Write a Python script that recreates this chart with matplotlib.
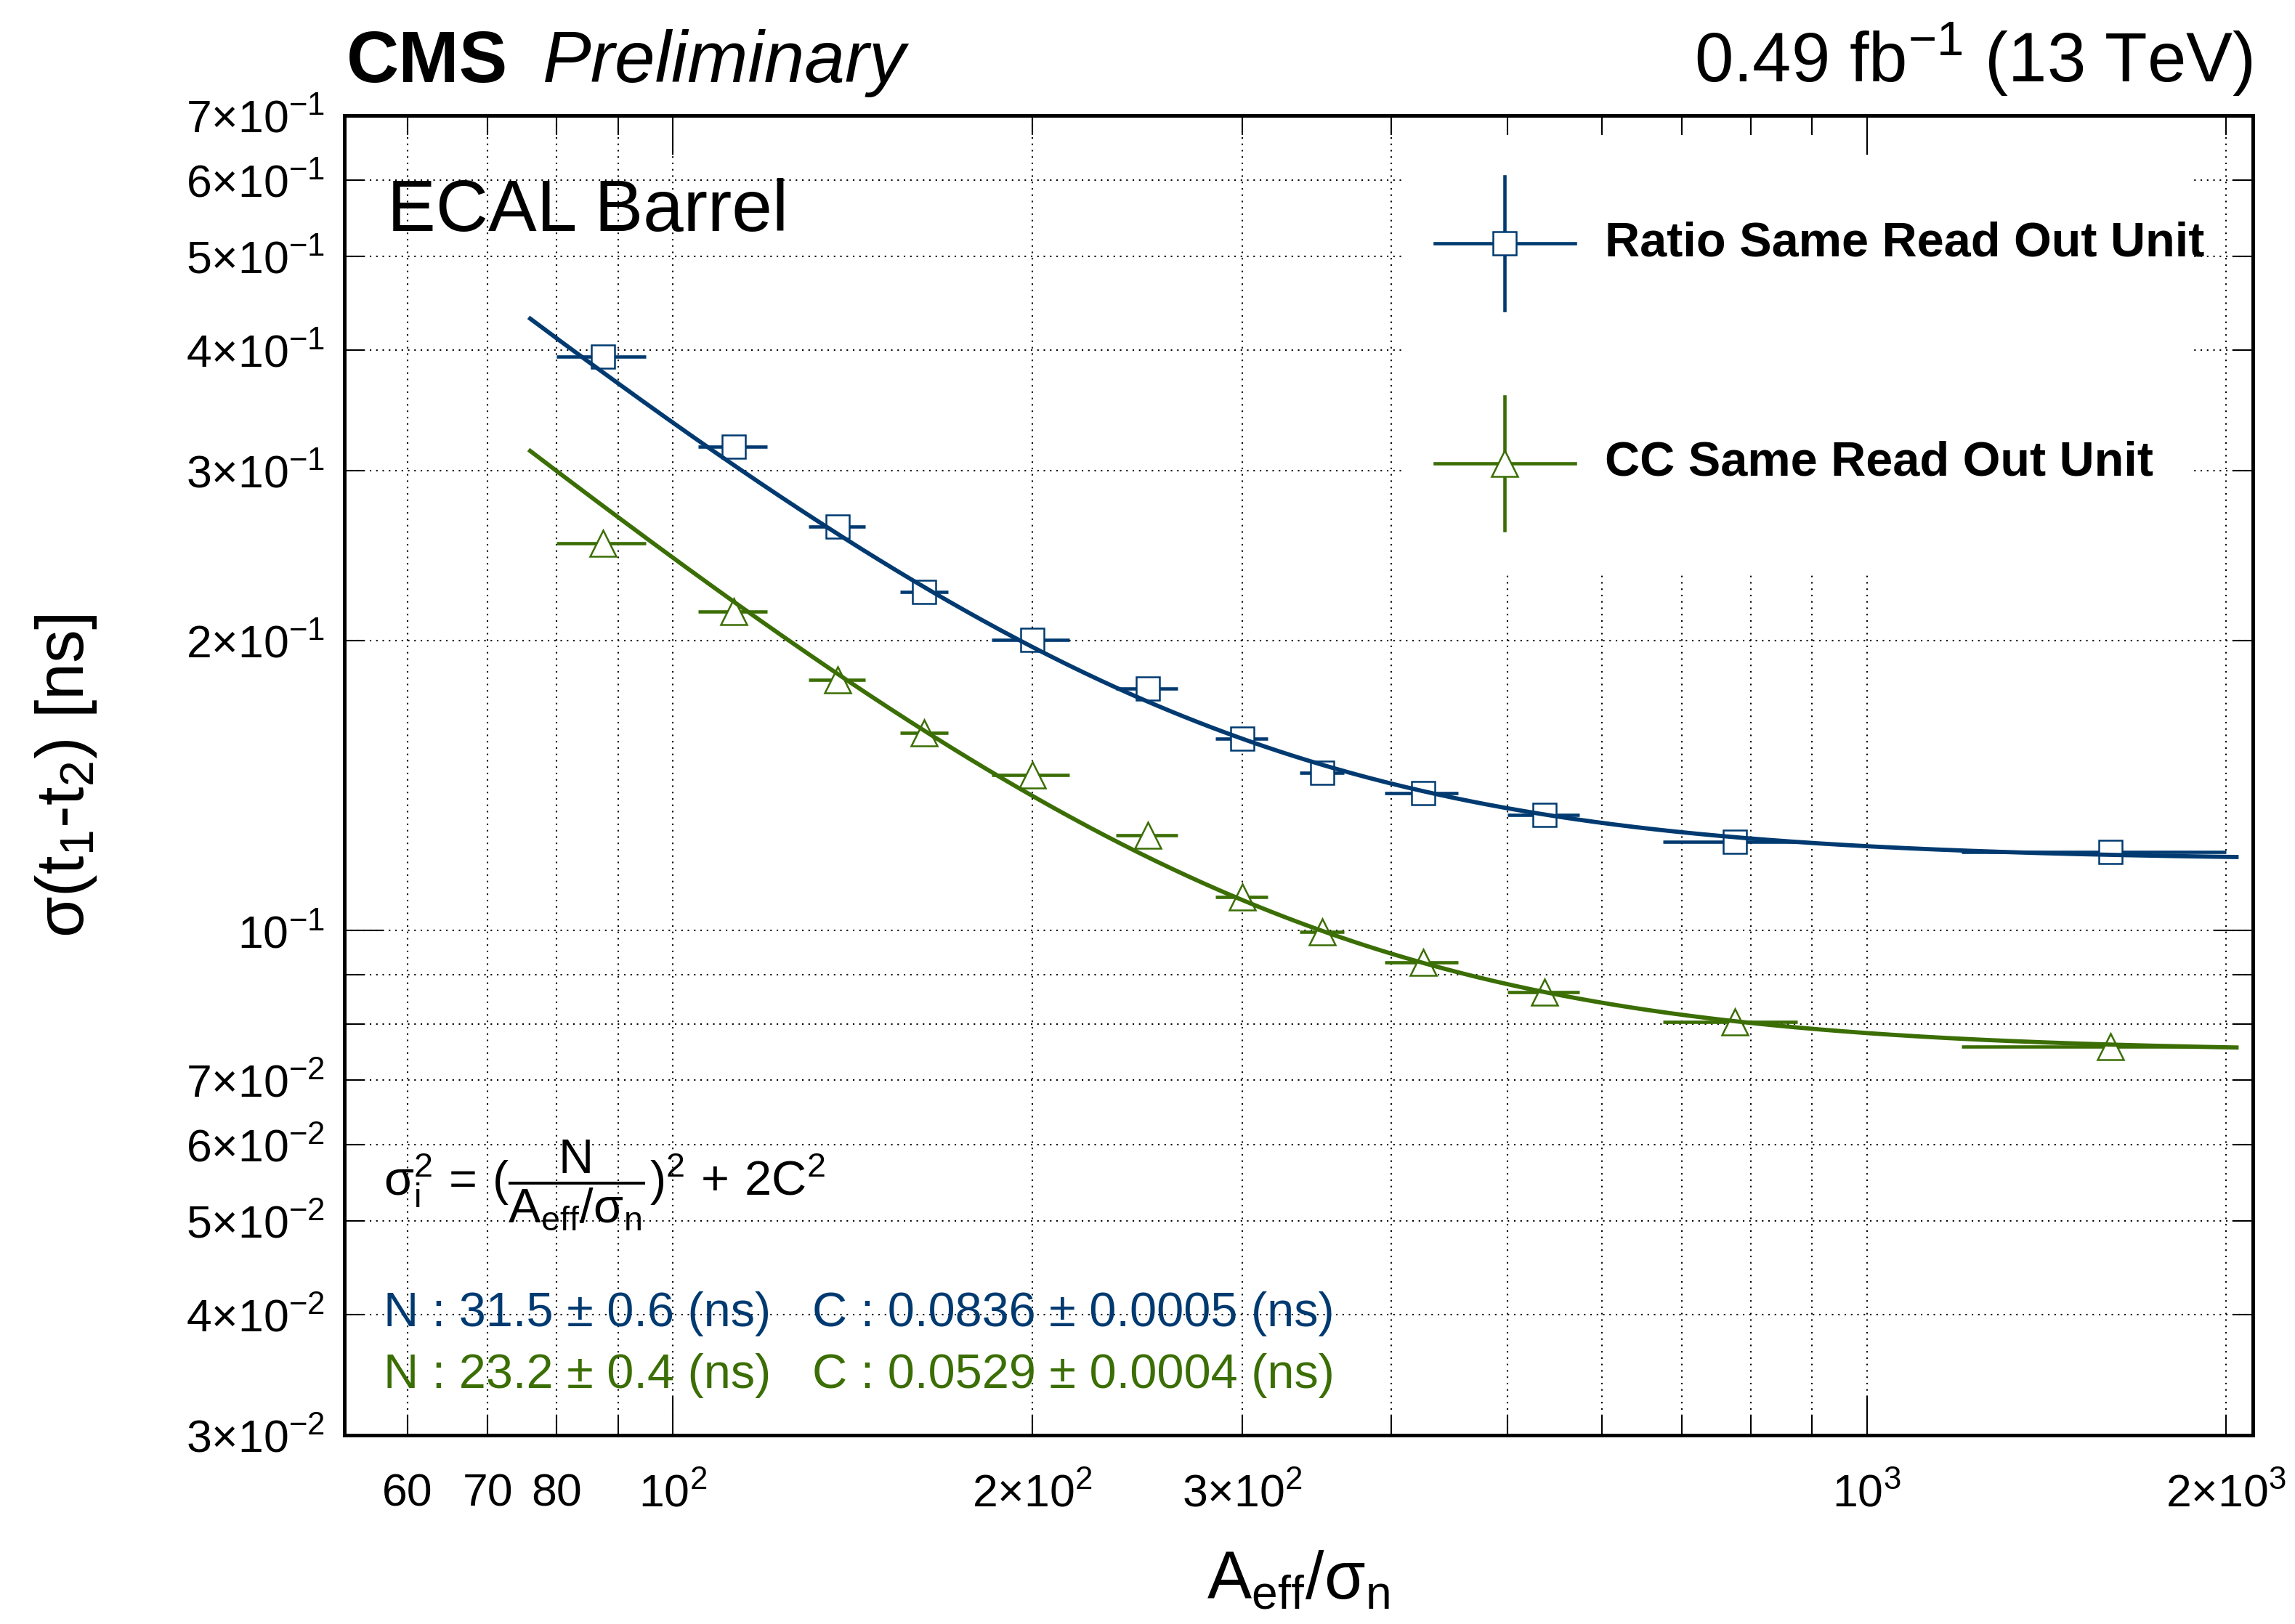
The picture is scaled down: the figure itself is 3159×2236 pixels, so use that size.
import numpy as np
import matplotlib
matplotlib.use("Agg")
import matplotlib.pyplot as plt
from matplotlib.patches import Rectangle
from matplotlib.lines import Line2D

plt.rcParams['font.family'] = ['Liberation Sans', 'DejaVu Sans']
plt.rcParams['mathtext.fontset'] = 'custom'
plt.rcParams['mathtext.rm'] = 'Liberation Sans'
plt.rcParams['mathtext.it'] = 'Liberation Sans:italic'
plt.rcParams['mathtext.bf'] = 'Liberation Sans:bold'
plt.rcParams['mathtext.sf'] = 'Liberation Sans'

# ---------------- data ----------------
x_center = np.array([87.5, 112.5, 137.5, 162.5, 200, 250, 300, 350, 425, 537.5, 775, 1600])
x_low = np.array([80, 105, 130, 155, 185, 235, 285, 335, 395, 500, 675, 1200])
x_high = np.array([95, 120, 145, 170, 215, 265, 315, 365, 455, 575, 875, 2000])

ratio_sigma = np.array([0.394, 0.3175, 0.2622, 0.2246, 0.2003, 0.1784, 0.1582, 0.1457,
                        0.1389, 0.1318, 0.1237, 0.1207])
ratio_err = np.array([0.004, 0.003, 0.003, 0.002, 0.002, 0.002, 0.002, 0.002, 0.001, 0.001, 0.001, 0.001])
cc_sigma = np.array([0.2520, 0.2142, 0.1820, 0.1605, 0.1451, 0.1257, 0.1083, 0.0997,
                     0.0928, 0.0864, 0.0804, 0.0759])
cc_err = np.array([0.003, 0.002, 0.002, 0.002, 0.002, 0.001, 0.001, 0.001, 0.001, 0.001, 0.001, 0.001])

# fit parameters (sigma^2 = (N/x)^2 + 2 C^2)
ratio_N, ratio_C = 31.5, 0.0836
cc_N, cc_C = 23.2, 0.0529
fit_range = (76.0, 2040.0)

labels = ["Ratio Same Read Out Unit", "CC Same Read Out Unit"]
fit_texts_N = ["N : 31.5 \u00b1 0.6 (ns)", "N : 23.2 \u00b1 0.4 (ns)"]
fit_texts_C = ["C : 0.0836 \u00b1 0.0005 (ns)", "C : 0.0529 \u00b1 0.0004 (ns)"]

x_major = [100, 1000]
x_major_labels = [r"$\mathregular{10^{2}}$", r"$\mathregular{10^{3}}$"]
x_minor = [60, 70, 80, 90, 200, 300, 400, 500, 600, 700, 800, 900, 2000]
x_minor_labels = ["60", "70", "80", "", r"$\mathregular{2{\times}10^{2}}$", r"$\mathregular{3{\times}10^{2}}$",
                  "", "", "", "", "", "", r"$\mathregular{2{\times}10^{3}}$"]
y_major = [0.1]
y_major_labels = [r"$\mathregular{10^{-1}}$"]
y_minor = [0.03, 0.04, 0.05, 0.06, 0.07, 0.08, 0.09, 0.2, 0.3, 0.4, 0.5, 0.6, 0.7]
y_minor_labels = [r"$\mathregular{3{\times}10^{-2}}$", r"$\mathregular{4{\times}10^{-2}}$",
                  r"$\mathregular{5{\times}10^{-2}}$", r"$\mathregular{6{\times}10^{-2}}$",
                  r"$\mathregular{7{\times}10^{-2}}$", "", "",
                  r"$\mathregular{2{\times}10^{-1}}$", r"$\mathregular{3{\times}10^{-1}}$",
                  r"$\mathregular{4{\times}10^{-1}}$", r"$\mathregular{5{\times}10^{-1}}$",
                  r"$\mathregular{6{\times}10^{-1}}$", r"$\mathregular{7{\times}10^{-1}}$"]

blue = '#003a70'
green = '#3b6e05'

# ---------------- figure ----------------
fig = plt.figure(figsize=(3159 / 300, 2236 / 300), dpi=300)
ax = fig.add_axes([0.1500, 0.1163, 0.8316, 0.8126])
ax.set_xscale('log')
ax.set_yscale('log')
ax.set_xlim(53.1, 2105)
ax.set_ylim(0.03, 0.7)

# grid lines (drawn manually so the legend box can hide them)
grid_kw = dict(color='black', lw=0.5, ls=(0, (1, 3.2)), zorder=0.5)
for v in x_major + x_minor:
    ax.axvline(v, **grid_kw)
for v in y_major + y_minor:
    ax.axhline(v, **grid_kw)

# legend background box
ax.add_patch(Rectangle((0.556, 0.6516), 0.411, 0.3484, transform=ax.transAxes,
                       facecolor='white', edgecolor='none', zorder=1))

xf = np.geomspace(fit_range[0], fit_range[1], 500)
for sig, err, N, C, col, mk in [(ratio_sigma, ratio_err, ratio_N, ratio_C, blue, 's'),
                                (cc_sigma, cc_err, cc_N, cc_C, green, '^')]:
    ax.errorbar(x_center, sig, xerr=[x_center - x_low, x_high - x_center], yerr=err,
                fmt='none', ecolor=col, elinewidth=1.1, capsize=0, zorder=3)
    ax.plot(x_center, sig, ls='none', marker=mk, ms=7.8 if mk == 's' else 8.8,
            mfc='white', mec=col, mew=0.6, zorder=4)
    ax.plot(xf, np.sqrt((N / xf) ** 2 + 2 * C ** 2), color=col, lw=1.4, zorder=5)

# ticks
ax.set_xticks(x_major, labels=x_major_labels)
ax.set_xticks(x_minor, labels=x_minor_labels, minor=True)
ax.set_yticks(y_major, labels=y_major_labels)
ax.set_yticks(y_minor, labels=y_minor_labels, minor=True)
ax.tick_params(which='both', direction='in', top=True, right=True, width=0.5,
               labelsize=15, colors='black')
ax.tick_params(which='major', length=13)
ax.tick_params(which='minor', length=6.5)
ax.tick_params(axis='x', which='both', pad=23.5)
ax.tick_params(axis='y', which='both', pad=6.5)
for lab in ax.get_xticklabels(which='both'):
    lab.set_verticalalignment('baseline')
for s in ax.spines.values():
    s.set_linewidth(1.2)

# legend (manual, ROOT style)
leg_x = 0.6081
for yy, col, mk, lab in [(0.9031, blue, 's', labels[0]), (0.7364, green, '^', labels[1])]:
    ax.add_line(Line2D([leg_x - 0.0367, leg_x + 0.0367], [yy, yy], transform=ax.transAxes,
                       color=col, lw=1.1, zorder=6))
    ax.add_line(Line2D([leg_x, leg_x], [yy - 0.0506, yy + 0.0506], transform=ax.transAxes,
                       color=col, lw=1.1, zorder=6))
    ax.plot([leg_x], [yy], transform=ax.transAxes, marker=mk, ms=7.8 if mk == 's' else 8.8,
            mfc='white', mec=col, mew=0.6, zorder=7, ls='none')
    ax.text(0.6605, yy, lab, transform=ax.transAxes, fontsize=16, fontweight='bold',
            va='center', ha='left', zorder=7)

# annotations
ax.text(0.0225, 0.9125, "ECAL Barrel", transform=ax.transAxes, fontsize=24, va='baseline', zorder=7)
ax.text(0.0205, 0.1893,
        r"$\mathregular{σ_{i}^{2}\,=\,(\dfrac{N}{A_{eff}/σ_{n}})^{2}\,+\,2C^{2}}$",
        transform=ax.transAxes, fontsize=16, va='center', ha='left', zorder=7)
ax.text(0.0205, 0.0919, fit_texts_N[0], transform=ax.transAxes, fontsize=16, color=blue, va='center', zorder=7)
ax.text(0.2452, 0.0919, fit_texts_C[0], transform=ax.transAxes, fontsize=16, color=blue, va='center', zorder=7)
ax.text(0.0205, 0.0451, fit_texts_N[1], transform=ax.transAxes, fontsize=16, color=green, va='center', zorder=7)
ax.text(0.2452, 0.0451, fit_texts_C[1], transform=ax.transAxes, fontsize=16, color=green, va='center', zorder=7)

# header
fig.text(0.1511, 0.9495, "CMS", fontsize=24, fontweight='bold', va='baseline')
fig.text(0.2366, 0.9495, "Preliminary", fontsize=24, style='italic', va='baseline')
fig.text(0.9816, 0.9495, r"0.49 fb$^{\mathregular{-1}}$ (13 TeV)", fontsize=23, ha='right', va='baseline')

# axis titles
fig.text(0.5657, 0.0152, r"$\mathregular{A_{eff}/σ_{n}}$", fontsize=22, ha='center', va='baseline')
fig.text(0.0288, 0.5224, r"σ(t$_{\mathregular{1}}$-t$_{\mathregular{2}}$) [ns]", fontsize=22, rotation=90,
         ha='center', va='center')

fig.savefig("out.png", dpi=300)
